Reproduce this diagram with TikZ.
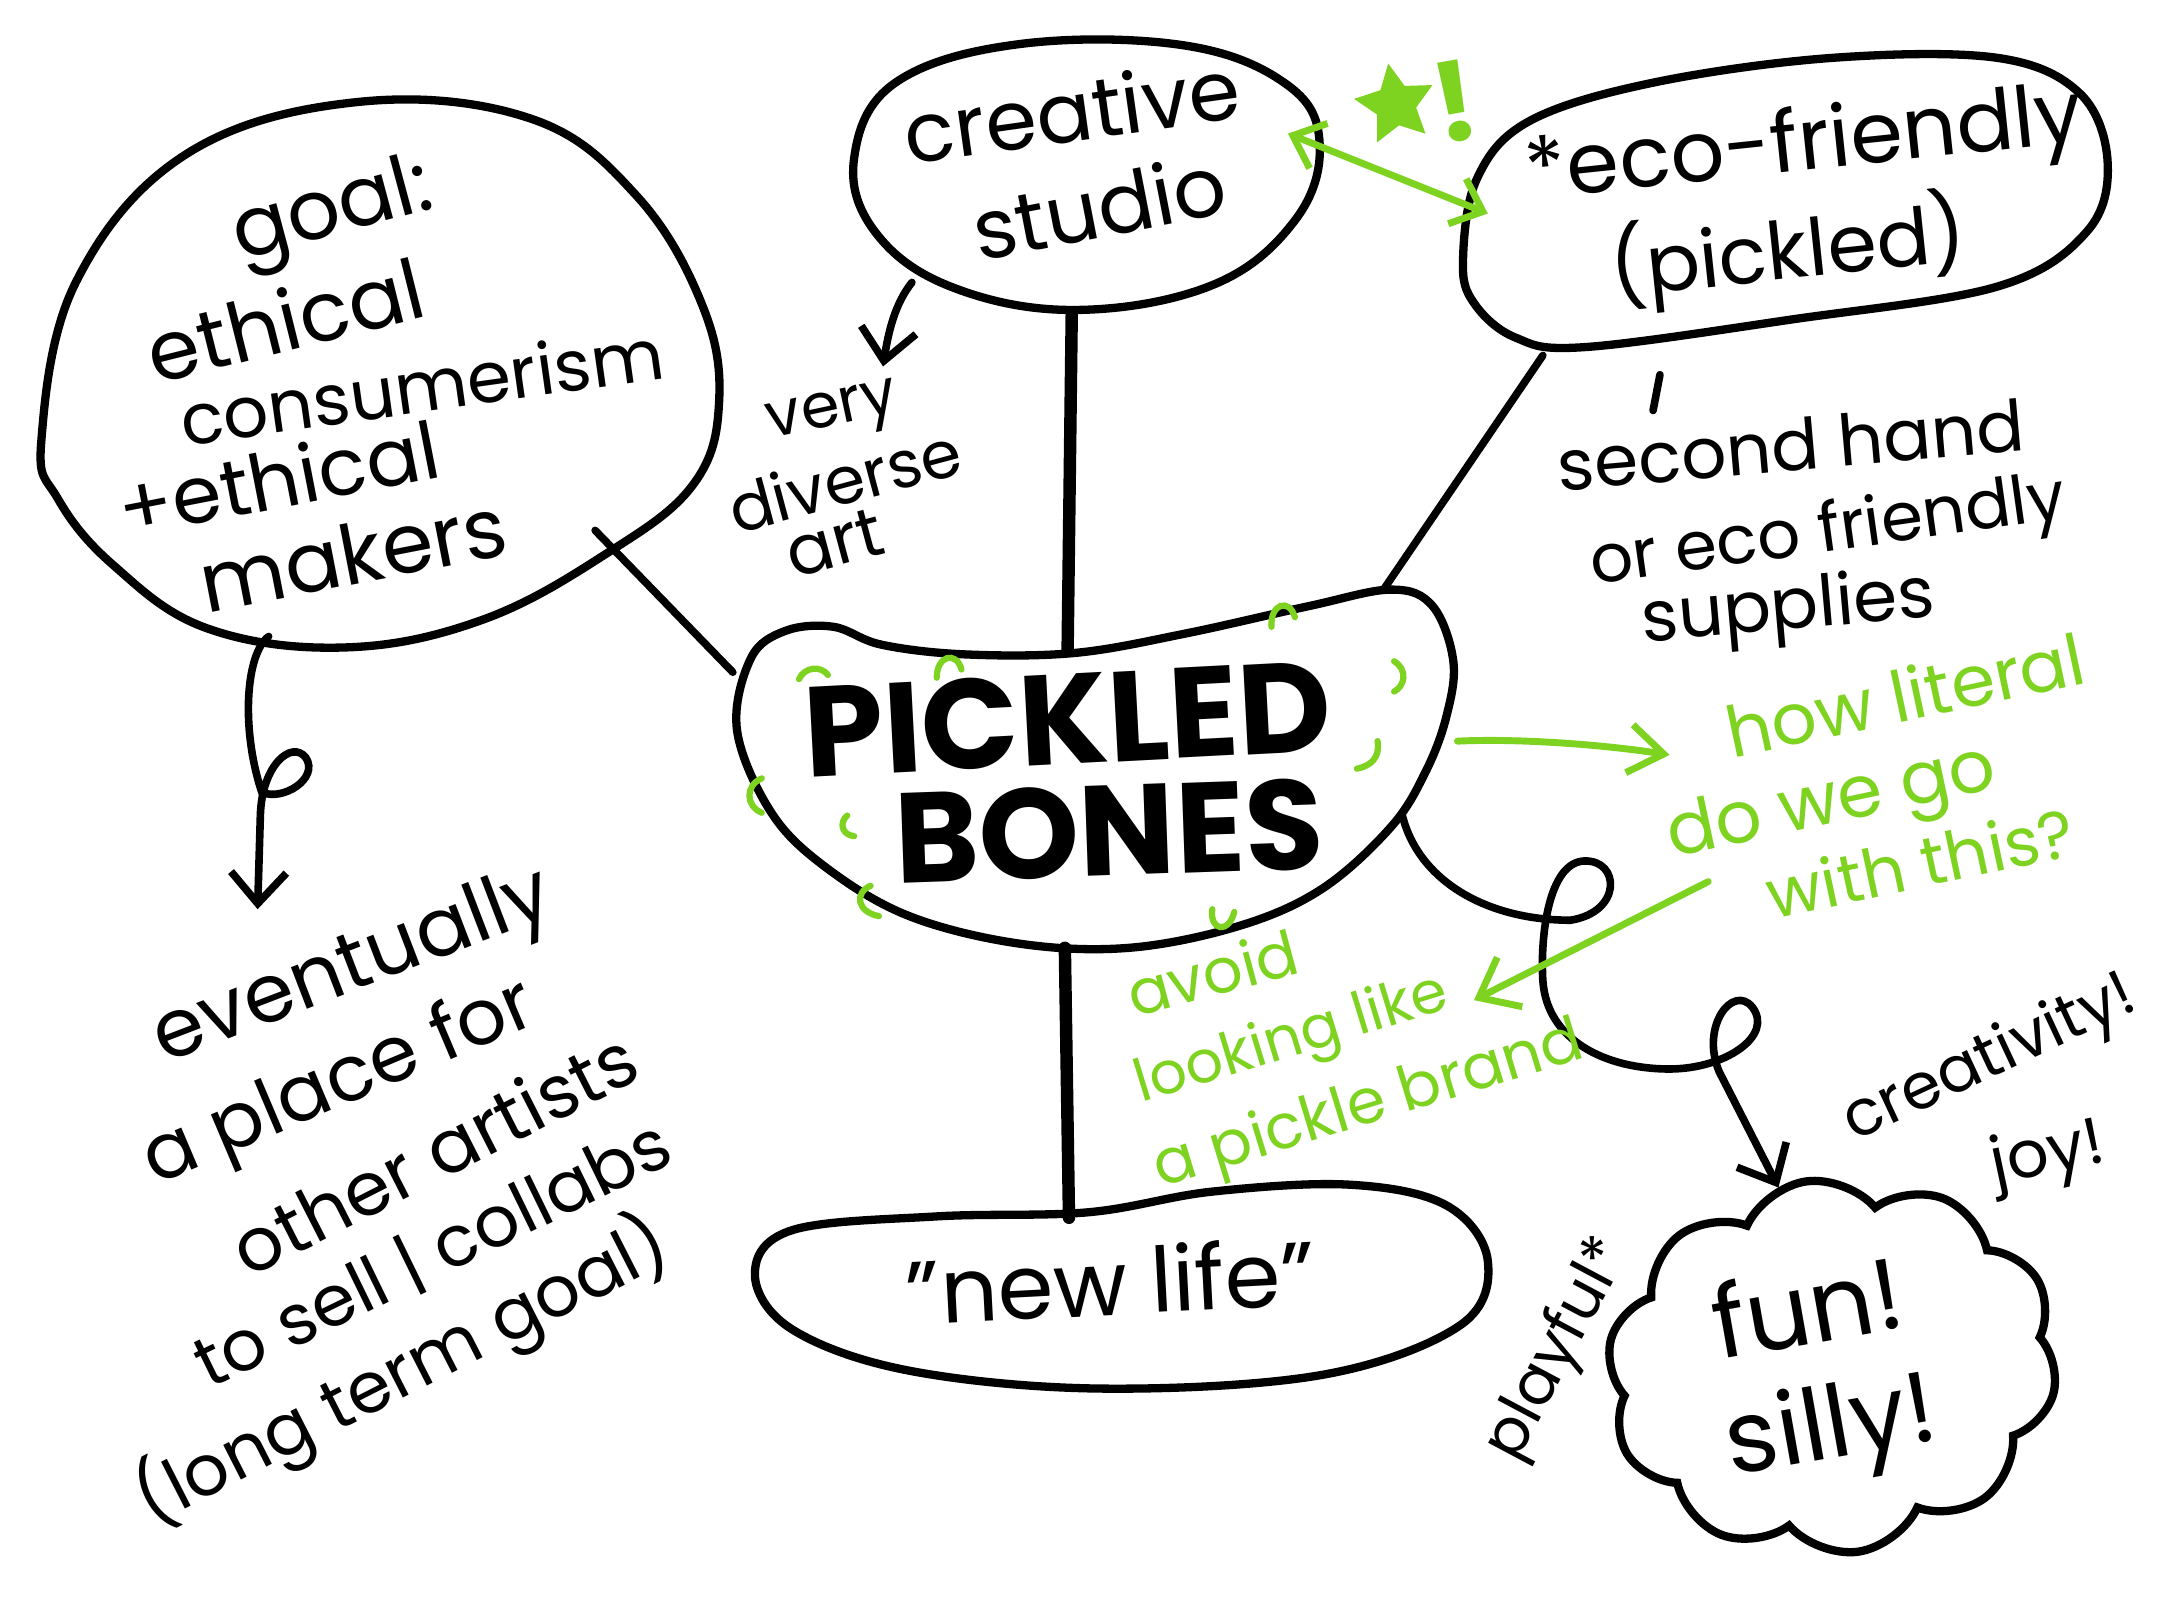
\documentclass[tikz,border=0pt]{standalone}
\usepackage{fontspec}
\setmainfont{Poppins}
\usetikzlibrary{arrows.meta,shapes.symbols,shapes.geometric}
\definecolor{lime}{RGB}{126,211,33}
\newcommand\hsz[1]{\fontsize{#1}{#1}\selectfont}
\begin{document}
\begin{tikzpicture}[x=0.14mm,y=-0.14mm,
  outline/.style={line width=2.4pt, line join=round, line cap=round},
  link/.style={line width=2.2pt, line cap=round},
  trunk/.style={line width=3.6pt, line cap=round},
  vhead/.style={-{Straight Barb[length=9pt,width=16pt]}},
  glink/.style={lime, line width=2pt, line cap=round},
  gmark/.style={lime, line width=1.8pt, line cap=round},
  hand/.style={inner sep=0pt, text=black},
  ghand/.style={inner sep=0pt, text=lime},
]
\useasboundingbox[fill=white] (0,0) rectangle (1568,1176);

% ---------- shapes ----------
% goal circle
\draw[outline] plot[smooth cycle, tension=0.65] coordinates {
 (30,320) (55,205) (135,112) (260,74) (385,86) (462,142) (510,222) (522,292)
 (503,352) (440,402) (350,450) (250,470) (150,456) (82,410) (42,362)};
% creative studio
\draw[outline] plot[smooth cycle, tension=0.65] coordinates {
 (620,115) (650,60) (740,32) (860,33) (935,62) (958,105) (940,160) (880,207)
 (780,225) (690,208) (635,168)};
% eco-friendly
\draw[outline] plot[smooth cycle, tension=0.6] coordinates {
 (1062,190) (1072,130) (1110,88) (1200,60) (1330,42) (1450,42) (1510,68)
 (1530,118) (1515,168) (1450,208) (1300,232) (1150,252) (1100,245) (1070,220)};
% pickled bones bean
\draw[outline] plot[smooth cycle, tension=0.6] coordinates {
 (535,530) (545,478) (570,458) (605,455) (640,468) (700,475) (780,474)
 (860,460) (950,440) (1010,428) (1040,440) (1055,480) (1050,520) (1035,560)
 (1010,600) (960,645) (900,672) (820,688) (740,685) (660,665) (600,630) (560,590)};
% new life
\draw[outline] plot[smooth cycle, tension=0.6] coordinates {
 (548,925) (575,893) (680,883) (790,880) (880,865) (980,860) (1050,875)
 (1080,915) (1060,962) (960,998) (800,1008) (660,995) (575,965)};
% cloud
\node[cloud, draw, line width=2.4pt, cloud puffs=10, cloud puff arc=115,
  minimum width=46mm, minimum height=38mm, rotate=8] (cloud) at (1330,992) {};

% ---------- anchor points ----------
\coordinate (goalB) at (432,385);
\coordinate (beanL) at (532,488);
\coordinate (creaB) at (778,228);
\coordinate (beanT) at (775,472);
\coordinate (ecoB) at (1120,258);
\coordinate (beanR) at (1005,427);
\coordinate (beanBot) at (773,688);
\coordinate (lifeT) at (776,884);
\coordinate (goalBot) at (195,462);
\coordinate (evTip) at (187,660);
\coordinate (creaL) at (662,205);
\coordinate (veryTip) at (641,266);
\coordinate (beanRR) at (1018,592);
\coordinate (funTip) at (1291,862);
\coordinate (creaR) at (935,97);
\coordinate (ecoL) at (1080,155);
\coordinate (beanE) at (1058,538);
\coordinate (howTip) at (1212,548);
\coordinate (withS) at (1240,640);
\coordinate (avoidTip) at (1070,726);
\coordinate (ecoTickA) at (1205,272);
\coordinate (ecoTickB) at (1200,298);

% ---------- connectors ----------
\draw[link] (goalB) -- (beanL);
\draw[trunk] (creaB) -- (beanT);
\draw[link] (ecoB) -- (beanR);
\draw[trunk] (beanBot) -- (lifeT);
\draw[link] (ecoTickA) -- (ecoTickB);
\draw[link, vhead] (goalBot) .. controls (178,475) and (175,530) .. (190,575)
  .. controls (205,582) and (232,565) .. (222,550)
  .. controls (212,537) and (190,555) .. (189,592) -- (evTip);
\draw[link, vhead] (creaL) .. controls (650,220) and (645,240) .. (veryTip);
\draw[link, vhead] (beanRR) .. controls (1030,640) and (1080,668) .. (1140,668)
  .. controls (1178,662) and (1176,624) .. (1150,625)
  .. controls (1124,626) and (1118,680) .. (1120,712)
  .. controls (1123,755) and (1165,776) .. (1212,776)
  .. controls (1252,776) and (1288,752) .. (1272,731)
  .. controls (1258,714) and (1234,745) .. (1248,778) -- (funTip);
\draw[glink, {Straight Barb[length=8pt,width=14pt]}-{Straight Barb[length=8pt,width=14pt]}] (creaR) -- (ecoL);
\draw[glink, -{Straight Barb[length=10pt,width=14pt]}] (beanE) .. controls (1100,536) and (1160,540) .. (howTip);
\draw[glink, -{Straight Barb[length=10pt,width=16pt]}] (withS) -- (avoidTip);

% green star + !
\node[star, star points=5, star point ratio=2.0, fill=lime, minimum size=8.5mm, inner sep=0pt, rotate=10] (star) at (1013,76) {};
\node[ghand, font=\hsz{32}\bfseries, rotate=10] (bang) at (1056,74) {!};

% green marks around the bean
\draw[gmark] (580,493) .. controls (584,484) and (596,483) .. (601,490);
\draw[gmark] (680,492) .. controls (680,476) and (694,472) .. (698,486);
\draw[gmark] (923,455) .. controls (922,438) and (936,434) .. (940,448);
\draw[gmark] (1012,480) .. controls (1022,486) and (1020,498) .. (1012,502);
\draw[gmark] (1000,538) .. controls (1002,550) and (995,556) .. (985,558);
\draw[gmark] (553,565) .. controls (541,570) and (541,585) .. (553,590);
\draw[gmark] (615,592) .. controls (609,597) and (611,606) .. (620,607);
\draw[gmark] (632,643) .. controls (620,648) and (622,662) .. (638,665);
\draw[gmark] (880,660) .. controls (878,676) and (892,678) .. (896,662);

% ---------- texts ----------
% goal circle
\node[hand, font=\hsz{24}, rotate=15] (tgoal) at (242,156) {goal:};
\node[hand, font=\hsz{24}, rotate=14] (teth) at (207,232) {ethical};
\node[hand, font=\hsz{20.5}, rotate=8] (tcons) at (306,280) {consumerism};
\node[hand, font=\hsz{23}, rotate=11] (teth2) at (202,347) {+ethical};
\node[hand, font=\hsz{24}, rotate=11] (tmak) at (256,402) {makers};
% creative studio
\node[hand, font=\hsz{24}, rotate=8] (tcrea) at (778,80) {creative};
\node[hand, font=\hsz{24}, rotate=11] (tstud) at (798,150) {studio};
% very diverse art
\node[hand, font=\hsz{18}, rotate=12] (tvery) at (605,302) {very};
\node[hand, font=\hsz{19}, rotate=15] (tdiv) at (613,348) {diverse};
\node[hand, font=\hsz{20}, rotate=15] (tart) at (606,394) {art};
% eco-friendly
\node[hand, font=\hsz{24.5}, rotate=6] (teco) at (1310,108) {*eco-friendly};
\node[hand, font=\hsz{23}, rotate=6] (tpick) at (1298,183) {(pickled)};
\node[hand, font=\hsz{20.5}, rotate=5] (tsec) at (1300,323) {second hand};
\node[hand, font=\hsz{19.5}, rotate=8] (tor) at (1327,388) {or eco friendly};
\node[hand, font=\hsz{20.5}, rotate=5] (tsup) at (1298,444) {supplies};
% title
\node[hand, font=\hsz{37}\bfseries, rotate=3] (tpickled) at (775,522) {PICKLED};
\node[hand, font=\hsz{37}\bfseries, rotate=2] (tbones) at (805,603) {BONES};
% green questions
\node[ghand, font=\hsz{20.5}, rotate=12] (thow) at (1383,504) {how literal};
\node[ghand, font=\hsz{21}, rotate=12] (tdo) at (1330,585) {do we go};
\node[ghand, font=\hsz{19.5}, rotate=12] (twith) at (1394,626) {with this?};
\node[ghand, font=\hsz{18}, rotate=15] (tavoid) at (880,706) {avoid};
\node[ghand, font=\hsz{17}, rotate=17] (tlook) at (938,756) {looking like};
\node[ghand, font=\hsz{18}, rotate=17] (tbrand) at (994,804) {a pickle brand};
% new life
\node[hand, font=\hsz{26}, rotate=3] (tlife) at (806,930) {"new life"};
% eventually
\node[hand, font=\hsz{23.5}, rotate=21] (tev) at (257,704) {eventually};
\node[hand, font=\hsz{22.5}, rotate=23] (tplace) at (247,788) {a place for};
\node[hand, font=\hsz{21.5}, rotate=27] (toth) at (315,837) {other artists};
\node[hand, font=\hsz{20.5}, rotate=26] (tsell) at (314,910) {to sell | collabs};
\node[hand, font=\hsz{20.5}, rotate=27] (tlong) at (292,996) {(long term goal)};
% cloud words
\node[hand, font=\hsz{29}, rotate=10] (tfun) at (1312,948) {fun!};
\node[hand, font=\hsz{29}, rotate=10] (tsilly) at (1330,1040) {silly!};
\node[hand, font=\hsz{18.5}, rotate=25] (tcreat) at (1445,770) {creativity!};
\node[hand, font=\hsz{19}, rotate=12] (tjoy) at (1487,840) {joy!};
\node[hand, font=\hsz{18}, rotate=62] (tplay) at (1132,980) {playful*};
\end{tikzpicture}
\end{document}
